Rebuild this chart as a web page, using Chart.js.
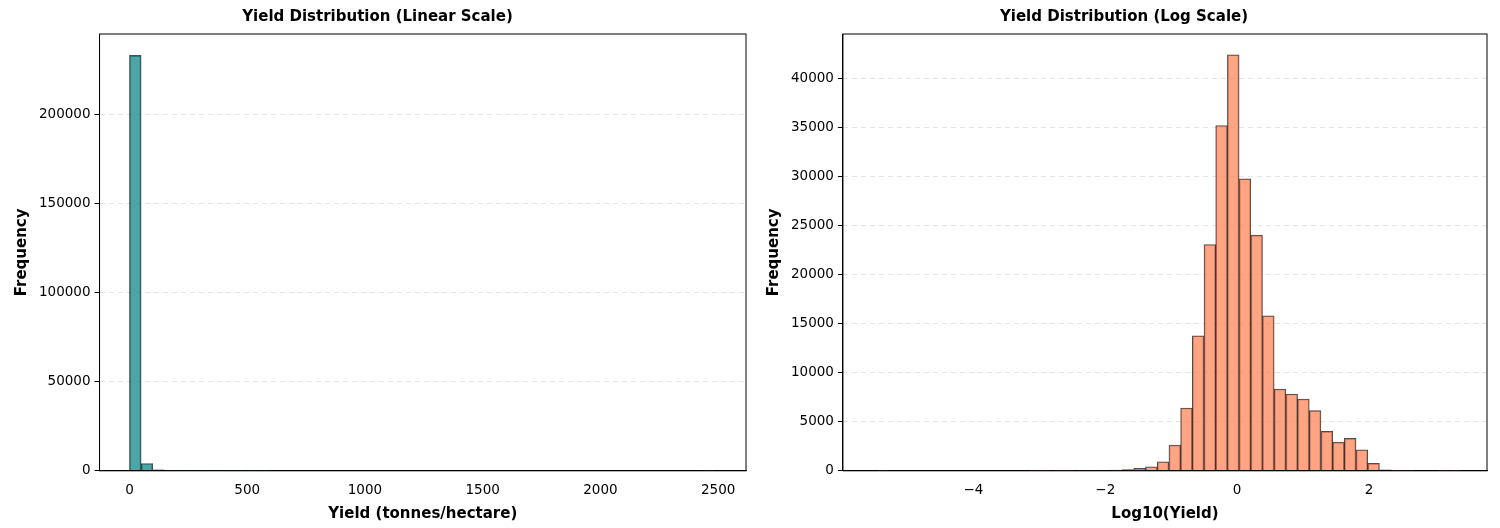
<!DOCTYPE html>
<html>
<head>
<script src="https://cdn.jsdelivr.net/npm/chart.js@4"></script>
<style>
  body { margin: 0; background: #fff; }
  .box { position: absolute; top: 0; height: 528px; }
</style>
</head>
<body>
<div class="box" style="left:0;width:752px"><canvas id="linChart"></canvas></div>
<div class="box" style="left:752px;width:748px"><canvas id="logChart"></canvas></div>
<script>
// Histogram bins (50 bins each)
const linStart = 0;
const linWidth = 49.7;
const linCounts = [233000, 4100, 500, 120, 60, 30, 20, 10, 10, 5,
  5, 5, 0, 0, 0, 0, 0, 0, 0, 0, 0, 0, 0, 0, 0, 0, 0, 0, 0, 0,
  0, 0, 0, 0, 0, 0, 0, 0, 0, 0, 0, 0, 0, 0, 0, 0, 0, 0, 0, 2];
const linXTicks = [0, 500, 1000, 1500, 2000, 2500];
const linYTicks = [0, 50000, 100000, 150000, 200000];

const logStart = -5.47;
const logWidth = 0.1774;
const logCounts = [5, 0, 0, 0, 0, 0, 0, 0, 0, 0,
  0, 0, 0, 5, 10, 15, 20, 30, 40, 60,
  80, 130, 240, 410, 920, 2630, 6410, 13780, 23090, 35230,
  42450, 29800, 24040, 15820, 8350, 7840, 7330, 6140, 4020, 2930,
  3310, 2150, 750, 100, 10, 5, 0, 0, 20, 20];
const logXTicks = [-4, -2, 0, 2];
const logYTicks = [0, 5000, 10000, 15000, 20000, 25000, 30000, 35000, 40000];

const font = 'DejaVu Sans';
Chart.defaults.font.family = font;
Chart.defaults.color = '#000';

function centers(start, width, counts) {
  return counts.map((c, i) => ({ x: start + (i + 0.5) * width, y: c }));
}

function makeChart(id, data, color, cfg) {
  new Chart(document.getElementById(id).getContext('2d'), {
    type: 'bar',
    data: {
      datasets: [{
        data: data,
        backgroundColor: color,
        borderColor: 'rgba(0,0,0,0.7)',
        borderWidth: 1,
        barPercentage: 1,
        categoryPercentage: 1
      }]
    },
    options: {
      responsive: true,
      maintainAspectRatio: false,
      animation: false,
      layout: { padding: cfg.padding },
      plugins: {
        legend: { display: false },
        tooltip: { enabled: false },
        title: { display: true, text: cfg.title, font: { size: 15, weight: 'bold' }, padding: { top: 8, bottom: 8 } }
      },
      scales: {
        x: {
          type: 'linear', min: cfg.xmin, max: cfg.xmax, offset: false,
          afterBuildTicks: s => { s.ticks = cfg.xticks.map(v => ({ value: v })); },
          grid: { display: false },
          border: { color: '#000', width: 1 },
          ticks: { font: { size: 13.5 }, padding: 4,
            callback: v => String(v).replace('-', '\u2212') },
          title: { display: true, text: cfg.xlabel, font: { size: 15, weight: 'bold' }, padding: { top: 2 } }
        },
        y: {
          min: 0, max: cfg.ymax,
          afterBuildTicks: s => { s.ticks = cfg.yticks.map(v => ({ value: v })); },
          grid: { color: 'rgba(0,0,0,0.1)', tickColor: '#000', tickLength: 5 },
          border: { dash: [5, 4], color: '#000' },
          ticks: { font: { size: 13.5 }, padding: 4, callback: v => String(v) },
          title: { display: true, text: 'Frequency', font: { size: 15, weight: 'bold' } }
        }
      }
    },
    plugins: [{
      id: 'frame',
      afterDraw(chart) {
        const a = chart.chartArea, c = chart.ctx;
        c.save();
        c.strokeStyle = '#000';
        c.lineWidth = 1;
        c.strokeRect(a.left, a.top, a.right - a.left, a.bottom - a.top);
        c.restore();
      }
    }]
  });
}

makeChart('linChart', centers(linStart, linWidth, linCounts), 'rgba(0,128,128,0.7)', {
  title: 'Yield Distribution (Linear Scale)', xlabel: 'Yield (tonnes/hectare)',
  xmin: -127, xmax: 2618, xticks: linXTicks, yticks: linYTicks, ymax: 245000,
  padding: { left: 9, right: 6, top: 0, bottom: 1 }
});
makeChart('logChart', centers(logStart, logWidth, logCounts), 'rgba(255,127,80,0.7)', {
  title: 'Yield Distribution (Log Scale)', xlabel: 'Log10(Yield)',
  xmin: -5.98, xmax: 3.79, xticks: logXTicks, yticks: logYTicks, ymax: 44570,
  padding: { left: 9, right: 13, top: 0, bottom: 1 }
});
</script>
</body>
</html>
